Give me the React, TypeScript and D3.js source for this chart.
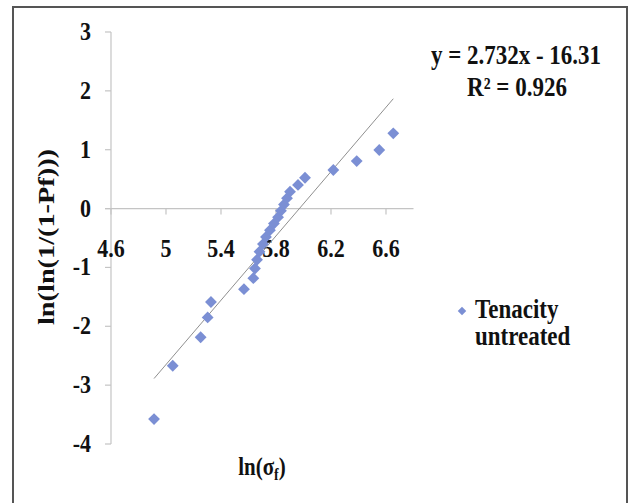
import React from "react";
import * as d3 from "d3";

const xValues = [4.913, 5.049, 5.252, 5.303, 5.327, 5.567, 5.635, 5.647, 5.662, 5.68, 5.705, 5.727, 5.756, 5.785, 5.815, 5.836, 5.858, 5.88, 5.902, 5.96, 6.011, 6.217, 6.387, 6.551, 6.653];
const yValues = [-3.577, -2.67, -2.186, -1.849, -1.587, -1.37, -1.183, -1.018, -0.869, -0.732, -0.604, -0.482, -0.367, -0.255, -0.146, -0.038, 0.069, 0.177, 0.287, 0.402, 0.523, 0.656, 0.807, 0.995, 1.279];
const xTicks = [4.6, 5, 5.4, 5.8, 6.2, 6.6];
const yTicks = [3, 2, 1, 0, -1, -2, -3, -4];
const slope = 2.732;
const intercept = -16.31;
const seriesName = ["Tenacity", "untreated"];

const font = "'Liberation Serif', 'Times New Roman', serif";
const SY = 1.15;

function T(props: { x: number; y: number; size: number; anchor?: string; children: React.ReactNode }) {
  return (
    <text
      transform={`translate(${props.x},${props.y}) scale(1,${SY})`}
      textAnchor={props.anchor || "start"}
      fontFamily={font}
      fontWeight="bold"
      fontSize={props.size}
      fill="#111"
    >
      {props.children}
    </text>
  );
}

export default function App() {
  const x = d3.scaleLinear().domain([4.6, 6.8]).range([111, 413.5]);
  const y = d3.scaleLinear().domain([-4, 3]).range([444, 32]);
  const color = "#7b8fd4";
  const axisColor = "#c4c4c4";
  const sq = d3.symbol().type(d3.symbolSquare).size(70)();
  const sqLegend = d3.symbol().type(d3.symbolSquare).size(36)();
  const xMin = d3.min(xValues) as number;
  const xMax = d3.max(xValues) as number;
  const line = d3.line<number>().x((d) => x(d)).y((d) => y(slope * d + intercept));
  const y0 = y(0);

  return (
    <svg width={633} height={503} style={{ position: "absolute", left: 0, top: 0, background: "#fff" }}>
      <rect x={0} y={0} width={633} height={503} fill="#fff" />
      <rect x={13} y={7} width={614} height={510} fill="none" stroke="#555" strokeWidth={2} />
      {/* y axis */}
      <line x1={x(4.6)} x2={x(4.6)} y1={y(3)} y2={y(-4)} stroke={axisColor} strokeWidth={1.2} />
      {yTicks.map((t) => (
        <g key={"yt" + t}>
          <line x1={x(4.6) - 6} x2={x(4.6)} y1={y(t)} y2={y(t)} stroke={axisColor} strokeWidth={1.2} />
          <T x={91} y={y(t) + 8} size={22} anchor="end">
            {t < 0 ? "-" + Math.abs(t) : String(t)}
          </T>
        </g>
      ))}
      {/* x axis */}
      <line x1={x(4.6) - 6} x2={x(6.8)} y1={y0} y2={y0} stroke={axisColor} strokeWidth={1.2} />
      {xTicks.map((t) => (
        <g key={"xt" + t}>
          <line x1={x(t)} x2={x(t)} y1={y0} y2={y0 + 6} stroke={axisColor} strokeWidth={1.2} />
          <T x={x(t)} y={y0 + 48} size={22} anchor="middle">
            {String(t)}
          </T>
        </g>
      ))}
      {/* trendline */}
      <path d={line([xMin, xMax]) || ""} stroke="#8f8f8f" strokeWidth={1} fill="none" />
      {/* points */}
      {xValues.map((v, i) => (
        <path key={"p" + i} d={sq || ""} transform={`translate(${x(v)},${y(yValues[i])}) rotate(45)`} fill={color} />
      ))}
      {/* equation */}
      <T x={516} y={64} size={23} anchor="middle">y = 2.732x - 16.31</T>
      <T x={517} y={96} size={23} anchor="middle">R² = 0.926</T>
      {/* legend */}
      <path d={sqLegend || ""} transform={`translate(462,311) rotate(45)`} fill={color} />
      <T x={475} y={318} size={23}>{seriesName[0]}</T>
      <T x={475} y={345} size={23}>{seriesName[1]}</T>
      {/* axis titles */}
      <text
        transform="translate(54,237) rotate(-90)"
        textAnchor="middle"
        fontFamily={font}
        fontWeight="bold"
        fontSize={24}
        fill="#111"
        textLength={176}
        lengthAdjust="spacingAndGlyphs"
      >
        ln(ln(1/(1-Pf)))
      </text>
      <text transform={`translate(262,475) scale(1,${SY})`} textAnchor="middle" fontFamily={font} fontWeight="bold" fontSize={21} fill="#111">
        ln(σ<tspan fontSize={14} dy={4}>f</tspan><tspan dy={-4}>)</tspan>
      </text>
    </svg>
  );
}
